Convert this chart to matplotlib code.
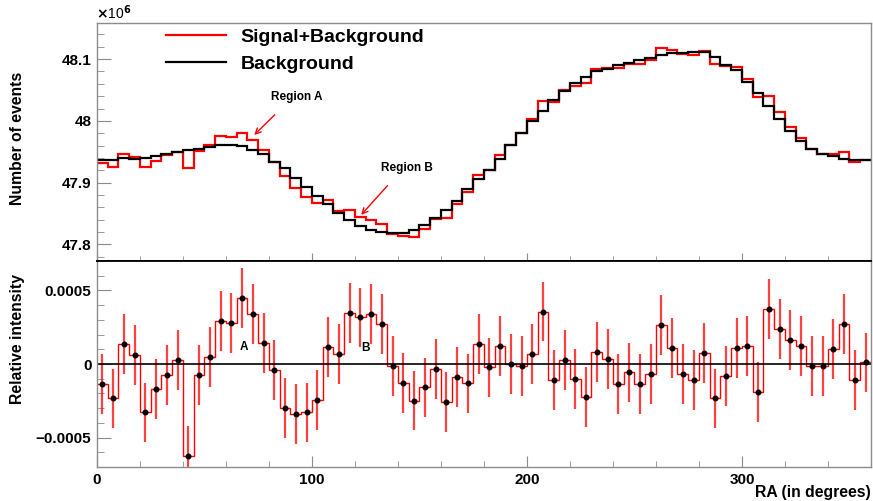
import numpy as np
import matplotlib.pyplot as plt
from matplotlib.ticker import MultipleLocator

plt.rcParams['font.family'] = ['Liberation Sans', 'DejaVu Sans']
plt.rcParams['font.weight'] = 'bold'

# 72 bins of 5 degrees in RA
ra_edges = np.linspace(0, 360, 73)

# number of events, in units of 1e6
signal_bkg = [
    47.932, 47.926, 47.9466, 47.941, 47.925, 47.9358, 47.944, 47.950, 47.923, 47.952,
    47.961, 47.975, 47.9735, 47.981, 47.9698, 47.953, 47.9326, 47.910, 47.8906, 47.8772,
    47.8674, 47.8716, 47.8544, 47.8557, 47.8442, 47.8402, 47.8330, 47.8173, 47.8129, 47.8121,
    47.8244, 47.8403, 47.8428, 47.8659, 47.884, 47.913, 47.9205, 47.9446, 47.9606, 47.9797,
    48.003, 48.0324, 48.030, 48.0496, 48.057, 48.0606, 48.084, 48.0849, 48.085, 48.0916,
    48.0925, 48.099, 48.118, 48.1145, 48.108, 48.107, 48.1138, 48.0920, 48.0885, 48.0865,
    48.067, 48.038, 48.041, 48.014, 47.990, 47.972, 47.955, 47.9465, 47.946, 47.950,
    47.9336, 47.937,
]
background = [
    47.9374, 47.9369, 47.9400, 47.9390, 47.9406, 47.9439, 47.9471, 47.9493, 47.9536, 47.9541,
    47.9579, 47.9617, 47.9606, 47.9590, 47.9536, 47.9471, 47.9336, 47.9239, 47.907, 47.893,
    47.879, 47.866, 47.851, 47.839, 47.829, 47.824, 47.820, 47.818, 47.819, 47.824,
    47.832, 47.842, 47.855, 47.870, 47.8904, 47.9066, 47.9212, 47.9390, 47.9606, 47.9806,
    48.0000, 48.0157, 48.0346, 48.0481, 48.0606, 48.0714, 48.0811, 48.0833, 48.0903, 48.0940,
    48.0984, 48.1011, 48.1065, 48.1092, 48.1103, 48.1119, 48.1108, 48.1038, 48.0903, 48.0822,
    48.0633, 48.0454, 48.0238, 48.0038, 47.9833, 47.9671, 47.9552, 47.9471, 47.9428, 47.9390,
    47.9374, 47.9363,
]

# relative intensity, in units of 1e-4
rel_e4 = [
    -1.34, -2.34, 1.38, 0.59, -3.29, -1.72, -0.73, 0.25, -6.26, -0.73,
    0.50, 2.93, 2.81, 4.47, 3.38, 1.43, -0.41, -2.97, -3.42, -3.29,
    -2.43, 1.16, 0.70, 3.49, 3.17, 3.38, 2.72, -0.14, -1.27, -2.49,
    -1.59, -0.36, -2.56, -0.86, -1.32, 1.34, -0.23, 1.20, 0.00, -0.14,
    0.68, 3.56, -1.09, 0.29, -1.02, -2.22, 0.82, 0.34, -1.38, -0.57,
    -1.34, -0.70, 2.65, 1.09, -0.68, -1.11, 0.77, -2.34, -0.84, 1.09,
    1.20, -1.90, 3.72, 2.36, 1.61, 1.20, -0.16, -0.14, 1.02, 2.74,
    -1.11, 0.11,
]
rel_err = 2.03e-4

top_ticks = [47.8, 47.9, 48.0, 48.1]
top_ticklabels = ['47.8', '47.9', '48', '48.1']
bot_ticks = [-0.0005, 0.0, 0.0005]
bot_ticklabels = ['\u22120.0005', '0', '0.0005']
x_ticks = [0, 100, 200, 300]
x_ticklabels = ['0', '100', '200', '300']

frame_col = '#8c8c8c'

rel = np.array(rel_e4) * 1e-4
centers = 0.5 * (ra_edges[:-1] + ra_edges[1:])

fig = plt.figure(figsize=(8.73, 5.01), dpi=100)
ax1 = fig.add_axes([0.1111, 0.4790, 0.8866, 0.4757])
ax2 = fig.add_axes([0.1111, 0.0679, 0.8866, 0.4111])

# --- top panel: histograms ---
ax1.stairs(signal_bkg, ra_edges, baseline=None, color='red', lw=1.6,
           label='Signal+Background')
ax1.stairs(background, ra_edges, baseline=None, color='black', lw=1.6,
           label='Background')
ax1.set_xlim(0, 360)
ax1.set_ylim(47.773, 48.159)
ax1.set_yticks(top_ticks)
ax1.set_yticklabels(top_ticklabels)
ax1.yaxis.set_minor_locator(MultipleLocator(0.02))
ax1.xaxis.set_major_locator(MultipleLocator(100))
ax1.xaxis.set_minor_locator(MultipleLocator(20))
ax1.tick_params(axis='x', which='both', labelbottom=False)
ax1.tick_params(axis='x', which='major', length=6)
ax1.tick_params(axis='x', which='minor', length=3.5)

ax1.legend(loc='upper left', bbox_to_anchor=(0.089, 0.975), frameon=False,
           fontsize=14, handlelength=3.1, handletextpad=0.75,
           labelspacing=0.45, borderaxespad=0, borderpad=0)

ax1.annotate('', xy=(72.2, 47.974), xytext=(83.6, 48.013),
             arrowprops=dict(arrowstyle='->', color='red', lw=1))
ax1.text(93, 48.038, 'Region A', ha='center', va='center', fontsize=8.5)
ax1.annotate('', xy=(122, 47.8444), xytext=(136, 47.8985),
             arrowprops=dict(arrowstyle='->', color='red', lw=1))
ax1.text(144, 47.923, 'Region B', ha='center', va='center', fontsize=8.5)

fig.text(96 / 873, 1 - 13 / 501, r'$\times$10$^{6}$', ha='left', va='center',
         fontsize=10, fontweight='normal')

# --- bottom panel: relative intensity ---
ax2.stairs(rel, ra_edges, baseline=None, color='red', lw=1.0)
ax2.errorbar(centers, rel, yerr=rel_err, fmt='none', ecolor='red',
             elinewidth=1.6, alpha=0.75)
ax2.plot(centers, rel, 'o', color='black', ms=3.3)
ax2.axhline(0, color='black', lw=1.2)
ax2.set_xlim(0, 360)
ax2.set_ylim(-0.0007, 0.0007)
ax2.set_yticks(bot_ticks)
ax2.set_yticklabels(bot_ticklabels)
ax2.yaxis.set_minor_locator(MultipleLocator(0.0001))
ax2.set_xticks(x_ticks)
ax2.set_xticklabels(x_ticklabels)
ax2.xaxis.set_minor_locator(MultipleLocator(20))
ax2.tick_params(axis='x', which='major', length=8, pad=4)
ax2.tick_params(axis='x', which='minor', length=4)

ax2.text(68.2, 0.000116, 'A', ha='center', va='center', fontsize=8.5)
ax2.text(125, 0.000109, 'B', ha='center', va='center', fontsize=8.5)

for ax in (ax1, ax2):
    for s in ax.spines.values():
        s.set_color(frame_col)
        s.set_linewidth(1.0)
    ax.tick_params(axis='both', which='both', direction='in', color=frame_col,
                   labelsize=11, top=False, right=False)
    ax.tick_params(axis='y', which='major', length=10, pad=4)
    ax.tick_params(axis='y', which='minor', length=5)

ax1.spines['bottom'].set_color('black')
ax1.spines['bottom'].set_linewidth(1.3)
ax2.spines['top'].set_color('black')
ax2.spines['top'].set_linewidth(1.3)

fig.text(18 / 873, 1 - 138 / 501, 'Number of events', rotation=90,
         ha='center', va='center', fontsize=11.3)
fig.text(18 / 873, 1 - 339 / 501, 'Relative intensity', rotation=90,
         ha='center', va='center', fontsize=11.3)
fig.text(871 / 873, 1 - 492 / 501, 'RA (in degrees)', ha='right',
         va='center', fontsize=11.3)

fig.savefig('out.png', dpi=100)
